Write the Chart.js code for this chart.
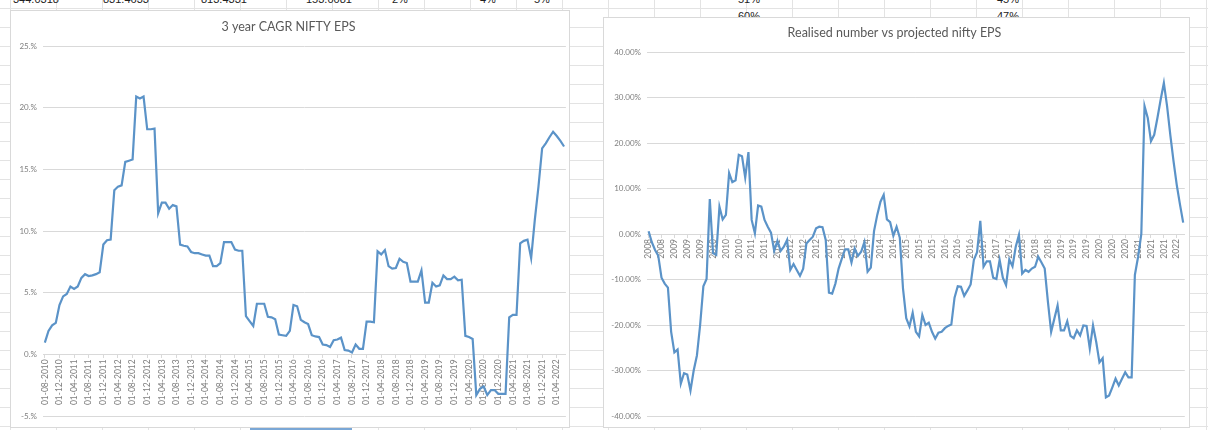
<!DOCTYPE html>
<html>
<head>
<meta charset="utf-8">
<script src="https://cdn.jsdelivr.net/npm/chart.js@4.4.0/dist/chart.umd.min.js"></script>
<style>
  body { margin: 0; width: 1208px; height: 430px; overflow: hidden; position: relative; background: #fff; }
  .sheet {
    position: absolute; left: 0; top: 0; width: 1208px; height: 430px;
    background-image: linear-gradient(#e3e3e3 1px, transparent 1px), linear-gradient(90deg, #e3e3e3 1px, transparent 1px);
    background-size: 46px 19px;
    background-position: 0 8px, 10px 0;
  }
  .cell { position: absolute; font: 11px 'Liberation Sans', Arial, sans-serif; color: #222; white-space: nowrap; }
  .box { position: absolute; background: #fff; border: 1px solid #d9d9d9; box-sizing: border-box; }
  .box canvas { position: absolute; left: 0; top: 0; }
  .selected { position: absolute; left: 250px; top: 426px; width: 102px; height: 4px; background: #7aa7d6; }
</style>
</head>
<body>
<div class="sheet"></div>
<div class="cell" style="left:13px;top:-7px">344.0318</div>
<div class="cell" style="left:103px;top:-7px">831.4633</div>
<div class="cell" style="left:201px;top:-7px">813.4331</div>
<div class="cell" style="left:306px;top:-7px">153.0081</div>
<div class="cell" style="left:392px;top:-7px">2%</div>
<div class="cell" style="left:480px;top:-7px">4%</div>
<div class="cell" style="left:534px;top:-7px">5%</div>
<div class="cell" style="left:738px;top:-7px">51%</div>
<div class="cell" style="left:997px;top:-7px">45%</div>
<div class="cell" style="left:738px;top:10px">60%</div>
<div class="cell" style="left:997px;top:10px">47%</div>
<div class="selected"></div>

<div class="box" style="left:10px;top:10px;width:560px;height:418px">
  <canvas id="cagr" width="558" height="416"></canvas>
</div>
<div class="box" style="left:603px;top:17px;width:587px;height:411px">
  <canvas id="realised" width="585" height="409"></canvas>
</div>

<script>
// 3 year CAGR of NIFTY EPS, monthly from Aug 2010 (percent)
const cagrEps = [
  0.95, 1.9, 2.35, 2.55, 4.0, 4.7, 4.9, 5.5, 5.3, 5.5, 6.2, 6.5,
  6.35, 6.4, 6.5, 6.65, 8.9, 9.25, 9.3, 13.3, 13.6, 13.7, 15.6, 15.7,
  15.8, 20.9, 20.75, 20.9, 18.25, 18.25, 18.3, 11.45, 12.3, 12.3, 11.8, 12.1,
  12.0, 8.9, 8.8, 8.75, 8.3, 8.2, 8.2, 8.1, 8.0, 8.0, 7.15, 7.15,
  7.4, 9.1, 9.1, 9.1, 8.5, 8.4, 8.4, 3.1, 2.7, 2.3, 4.1, 4.1,
  4.1, 3.05, 3.0, 2.85, 1.6, 1.55, 1.5, 1.9, 4.0, 3.9, 2.8, 2.6,
  2.45, 1.55, 1.45, 1.4, 0.8, 0.75, 0.6, 1.15, 1.2, 1.35, 0.35, 0.3,
  0.15, 0.8, 0.45, 0.45, 2.65, 2.65, 2.6, 8.35, 8.1, 8.45, 7.15, 6.95,
  7.0, 7.75, 7.5, 7.4, 5.9, 5.9, 5.9, 6.8, 4.2, 4.2, 5.8, 5.5,
  5.6, 6.4, 6.1, 6.1, 6.3, 6.0, 6.05, 1.5, 1.4, 1.25, -3.3, -2.8,
  -2.6, -3.3, -2.9, -2.9, -3.2, -3.2, -3.2, 3.0, 3.2, 3.2, 9.0, 9.2,
  9.3, 7.8, 10.9, 13.6, 16.7, 17.1, 17.6, 18.05, 17.7, 17.3, 16.85
];

// realised number vs projected nifty EPS, monthly from Aug 2008 (percent)
const realisedVsProjected = [
  0.6, -1.8, -3.5, -4.8, -9.6, -10.9, -11.8, -21.5, -26.0, -25.4, -32.9, -30.6,
  -30.9, -34.4, -30.0, -26.7, -20.0, -11.5, -9.9, 7.7, -4.2, -4.6, 6.0, 3.2,
  4.2, 13.4, 11.4, 11.8, 17.4, 17.1, 12.4, 18.0, 3.1, 0.15, 6.25, 6.0,
  3.1, 1.6, 0.3, -3.7, -1.5, -3.7, -2.8, -1.3, -7.9, -6.6, -7.9, -9.2,
  -7.6, -2.1, -1.3, -0.6, 1.25, 1.6, 1.5, -1.3, -12.9, -13.1, -10.9, -7.6,
  -5.4, -3.4, -3.4, -6.25, -3.2, -4.8, -3.9, -1.8, -8.3, -7.4, 0.65, 4.2,
  7.1, 8.6, 3.2, 2.6, -0.4, 1.6, -0.8, -12.0, -18.5, -20.3, -17.3, -21.5,
  -22.5, -17.8, -20.0, -19.5, -21.5, -23.0, -21.7, -21.5, -20.7, -20.2, -19.9, -14.0,
  -11.5, -11.6, -13.6, -12.4, -11.1, -5.7, -4.0, 2.9, -7.2, -6.0, -6.0, -9.6,
  -9.9, -5.7, -9.6, -11.25, -5.6, -7.1, -2.8, -0.2, -8.7, -7.9, -8.3, -7.6,
  -7.2, -5.0, -6.25, -7.6, -14.9, -21.5, -18.6, -15.7, -21.2, -21.2, -19.2, -22.4,
  -22.9, -21.2, -22.3, -20.1, -20.2, -25.2, -20.1, -23.75, -28.2, -27.3, -35.9, -35.5,
  -33.7, -31.8, -33.3, -31.8, -30.4, -31.5, -31.5, -9.0, -5.0, 0.0, 28.1, 25.5,
  20.4, 21.8, 25.5, 29.5, 33.2, 28.1, 21.8, 16.0, 10.8, 6.5, 2.5
];

// tick labels shown every 4 months
const cagrTickLabels = [
  '01-08-2010', '01-12-2010',
  '01-04-2011', '01-08-2011', '01-12-2011',
  '01-04-2012', '01-08-2012', '01-12-2012',
  '01-04-2013', '01-08-2013', '01-12-2013',
  '01-04-2014', '01-08-2014', '01-12-2014',
  '01-04-2015', '01-08-2015', '01-12-2015',
  '01-04-2016', '01-08-2016', '01-12-2016',
  '01-04-2017', '01-08-2017', '01-12-2017',
  '01-04-2018', '01-08-2018', '01-12-2018',
  '01-04-2019', '01-08-2019', '01-12-2019',
  '01-04-2020', '01-08-2020', '01-12-2020',
  '01-04-2021', '01-08-2021', '01-12-2021',
  '01-04-2022'
];
const realisedTickLabels = [
  '2008', '2008',
  '2009', '2009', '2009', '2010', '2010', '2010', '2011', '2011', '2011',
  '2012', '2012', '2012', '2013', '2013', '2013', '2014', '2014', '2014',
  '2015', '2015', '2015', '2016', '2016', '2016', '2017', '2017', '2017',
  '2018', '2018', '2018', '2019', '2019', '2019', '2020', '2020', '2020',
  '2021', '2021', '2021',
  '2022'
];

// monthly category labels
function months(year, month, count) {
  const out = [];
  for (let i = 0; i < count; i++) {
    const m = (month - 1 + i) % 12 + 1;
    const y = year + Math.floor((month - 1 + i) / 12);
    out.push('01-' + String(m).padStart(2, '0') + '-' + y);
  }
  return out;
}
const cagrMonths = months(2010, 8, cagrEps.length);
const realisedMonths = months(2008, 8, realisedVsProjected.length);

const lineColor = '#5b93c8';
const gridColor = '#d9d9d9';
const labelColor = '#7f7f7f';

function makeChart(id, labels, data, tickLabels, opts) {
  return new Chart(document.getElementById(id), {
    type: 'line',
    data: {
      labels: labels,
      datasets: [{
        data: data,
        borderColor: lineColor,
        borderWidth: 2.2,
        pointRadius: 0,
        tension: 0,
        fill: false,
      }],
    },
    options: {
      responsive: false,
      animation: false,
      layout: { padding: opts.padding },
      plugins: {
        legend: { display: false },
        tooltip: { enabled: false },
        title: {
          display: true,
          text: opts.title,
          color: '#595959',
          font: { family: 'Lato', size: 12.5, weight: 'normal' },
          padding: opts.titlePadding,
        },
      },
      scales: {
        x: {
          position: { y: 0 },
          offset: true,
          grid: { display: true, drawOnChartArea: false, drawTicks: true, tickLength: 3, color: gridColor },
          border: { display: true, color: gridColor },
          ticks: {
            autoSkip: false,
            minRotation: 90,
            maxRotation: 90,
            padding: 2,
            color: labelColor,
            font: { family: 'Lato', size: 8.5 },
            callback: function (v, i) {
              return i % 4 === 0 ? tickLabels[i / 4] : null;
            },
          },
        },
        y: {
          min: opts.min,
          max: opts.max,
          afterFit: function (scale) { scale.width = opts.axisWidth; },
          grid: { color: gridColor, drawTicks: false },
          border: { display: false },
          ticks: {
            stepSize: opts.step,
            padding: opts.tickPad,
            color: labelColor,
            font: { family: 'Lato', size: 8 },
            callback: opts.format,
          },
        },
      },
    },
  });
}

makeChart('cagr', cagrMonths, cagrEps, cagrTickLabels, {
  title: '3 year CAGR NIFTY EPS',
  titlePadding: { top: 8, bottom: 12 },
  padding: { left: 0, right: 3, top: 0, bottom: 11 },
  axisWidth: 32,
  tickPad: 6,
  min: -5, max: 25, step: 5,
  format: function (v) { return v + '.%'; },
});

makeChart('realised', realisedMonths, realisedVsProjected, realisedTickLabels, {
  title: 'Realised number vs projected nifty EPS',
  titlePadding: { top: 7, bottom: 12 },
  padding: { left: 0, right: 4, top: 0, bottom: 11 },
  axisWidth: 43,
  tickPad: 6,
  min: -40, max: 40, step: 10,
  format: function (v) { return v.toFixed(2) + '%'; },
});
</script>
</body>
</html>
